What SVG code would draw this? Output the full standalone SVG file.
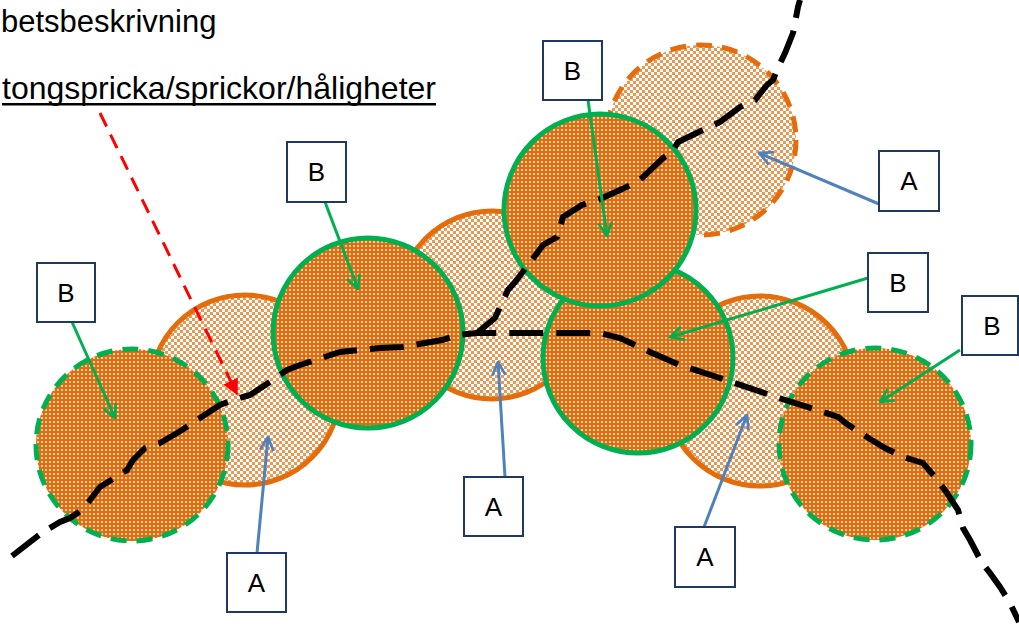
<svg xmlns="http://www.w3.org/2000/svg" width="1019" height="627" viewBox="0 0 1019 627">
<defs>
<pattern id="dark" width="4" height="4" patternUnits="userSpaceOnUse">
<rect width="4" height="4" fill="#E46C0A"/>
<rect x="1" y="1" width="2" height="2" fill="#ffffff" opacity="0.7"/>
</pattern>
<pattern id="light" width="6" height="6" patternUnits="userSpaceOnUse">
<rect width="6" height="6" fill="#ffffff"/>
<rect x="0" y="0" width="3" height="3" fill="#E46C0A" opacity="0.7"/>
<rect x="3" y="3" width="3" height="3" fill="#E46C0A" opacity="0.7"/>
</pattern>
<marker id="ag" viewBox="0 0 12 12" refX="11" refY="6" markerWidth="16" markerHeight="16" markerUnits="userSpaceOnUse" orient="auto">
<path d="M1,1 L11,6 L1,11" fill="none" stroke="#00B050" stroke-width="2"/>
</marker>
<marker id="ab" viewBox="0 0 12 12" refX="11" refY="6" markerWidth="16" markerHeight="16" markerUnits="userSpaceOnUse" orient="auto">
<path d="M1,1 L11,6 L1,11" fill="none" stroke="#4F81BD" stroke-width="2"/>
</marker>
<marker id="ar" viewBox="0 0 10 10" refX="9" refY="5" markerWidth="16" markerHeight="16" markerUnits="userSpaceOnUse" orient="auto">
<path d="M0,0 L10,5 L0,10 Z" fill="#FF0000"/>
</marker>
</defs>
<style>
.lt{fill:url(#light);stroke:#E46C0A;stroke-width:5}
.dk{fill:url(#dark);stroke:#00B050;stroke-width:5}
.dsh{stroke-dasharray:16 10}
.box{fill:#ffffff;stroke:#1F3864;stroke-width:2}
.lbl{font-family:"Liberation Sans",Arial,sans-serif;font-size:26px;fill:#000;text-anchor:middle}
.hdr{font-family:"Liberation Sans",Arial,sans-serif;fill:#000}
.g{stroke:#00B050;stroke-width:3;fill:none;marker-end:url(#ag)}
.b{stroke:#4F81BD;stroke-width:3;fill:none;marker-end:url(#ab)}
</style>
<rect width="1019" height="627" fill="#ffffff"/>
<text class="hdr" x="1" y="32" font-size="31">betsbeskrivning</text>
<text class="hdr" x="2" y="99" font-size="32">tongspricka/sprickor/håligheter</text>
<rect x="2" y="103" width="434" height="2.5" fill="#000"/>

<g id="circles">
<circle id="c2" class="lt" cx="245" cy="390" r="95"/>
<circle id="c4" class="lt" cx="492" cy="305" r="94"/>
<circle id="c6" class="lt dsh" cx="701" cy="140" r="95"/>
<circle id="c8" class="lt" cx="760" cy="391" r="95"/>
<circle id="c1" class="dk dsh" cx="132" cy="445" r="96"/>
<circle id="c3" class="dk" cx="368" cy="333" r="95"/>
<circle id="c7" class="dk" cx="638" cy="358" r="95"/>
<circle id="c5" class="dk" cx="600" cy="210" r="96"/>
<circle id="c9" class="dk dsh" cx="875" cy="444" r="96"/>
</g>

<g id="crack" fill="none" stroke="#000" stroke-width="6" stroke-dasharray="34 13">
<path d="M12,556 L43,532 L60,522 L70,518 L82,510 L90,500 L100,487 L127,470 L133,460 L145,448 L160,443 L182,430 L197,420 L220,405 L233,400 L250,395 L273,380 L287,370 L300,365 L340,352 L380,348 L402,347 L442,340 L458,335 L477,333 L540,333 L600,333 L620,338 L650,352 L680,365 L720,378 L782,399 L820,411 L838,417 L847,424 L870,439 L885,448 L903,457 L923,463 L935,477 L947,493 L958,510 L963,528 L970,540 L982,563 L990,573 L1000,587 L1010,603 L1019,622"/>
<path d="M477,333 L483,328 L495,318 L500,307 L508,290 L515,282 L532,260 L543,245 L557,237 L563,217 L582,205 L600,199 L620,190 L635,183 L642,178 L663,158 L672,152 L678,142 L703,130 L720,122 L740,107 L755,100 L767,85 L773,80 L777,70 L785,53 L793,33 L798,7 L800,0"/>
</g>

<g id="connectors">
<line x1="100" y1="113" x2="237" y2="394" stroke="#FF0000" stroke-width="3" stroke-dasharray="15 9" marker-end="url(#ar)"/>
<line class="g" x1="72" y1="322" x2="115" y2="418"/>
<line class="g" x1="325" y1="202" x2="358" y2="289"/>
<line class="g" x1="588" y1="100" x2="607" y2="236"/>
<line class="g" x1="868" y1="278" x2="670" y2="337"/>
<line class="g" x1="960" y1="350" x2="880" y2="402"/>
<line class="b" x1="879" y1="204" x2="759" y2="153"/>
<line class="b" x1="257" y1="553" x2="268" y2="437"/>
<line class="b" x1="505" y1="477" x2="498" y2="362"/>
<line class="b" x1="704" y1="527" x2="747" y2="415"/>
</g>

<g id="bB1"><rect class="box" x="37" y="263" width="58" height="59"/><text class="lbl" x="66" y="302">B</text></g>
<g id="bB2"><rect class="box" x="287" y="142" width="59" height="60"/><text class="lbl" x="316.5" y="181">B</text></g>
<g id="bB3"><rect class="box" x="543" y="41" width="59" height="59"/><text class="lbl" x="572.5" y="80">B</text></g>
<g id="bA1"><rect class="box" x="879" y="151" width="60" height="60"/><text class="lbl" x="909" y="190">A</text></g>
<g id="bB4"><rect class="box" x="868" y="253" width="60" height="59"/><text class="lbl" x="898" y="292">B</text></g>
<g id="bB5"><rect class="box" x="962" y="296" width="56" height="59"/><text class="lbl" x="992" y="335">B</text></g>
<g id="bA2"><rect class="box" x="227" y="553" width="59" height="59"/><text class="lbl" x="256.5" y="592">A</text></g>
<g id="bA3"><rect class="box" x="464" y="477" width="59" height="59"/><text class="lbl" x="493.5" y="516">A</text></g>
<g id="bA4"><rect class="box" x="675" y="527" width="60" height="60"/><text class="lbl" x="705" y="566">A</text></g>
</svg>
